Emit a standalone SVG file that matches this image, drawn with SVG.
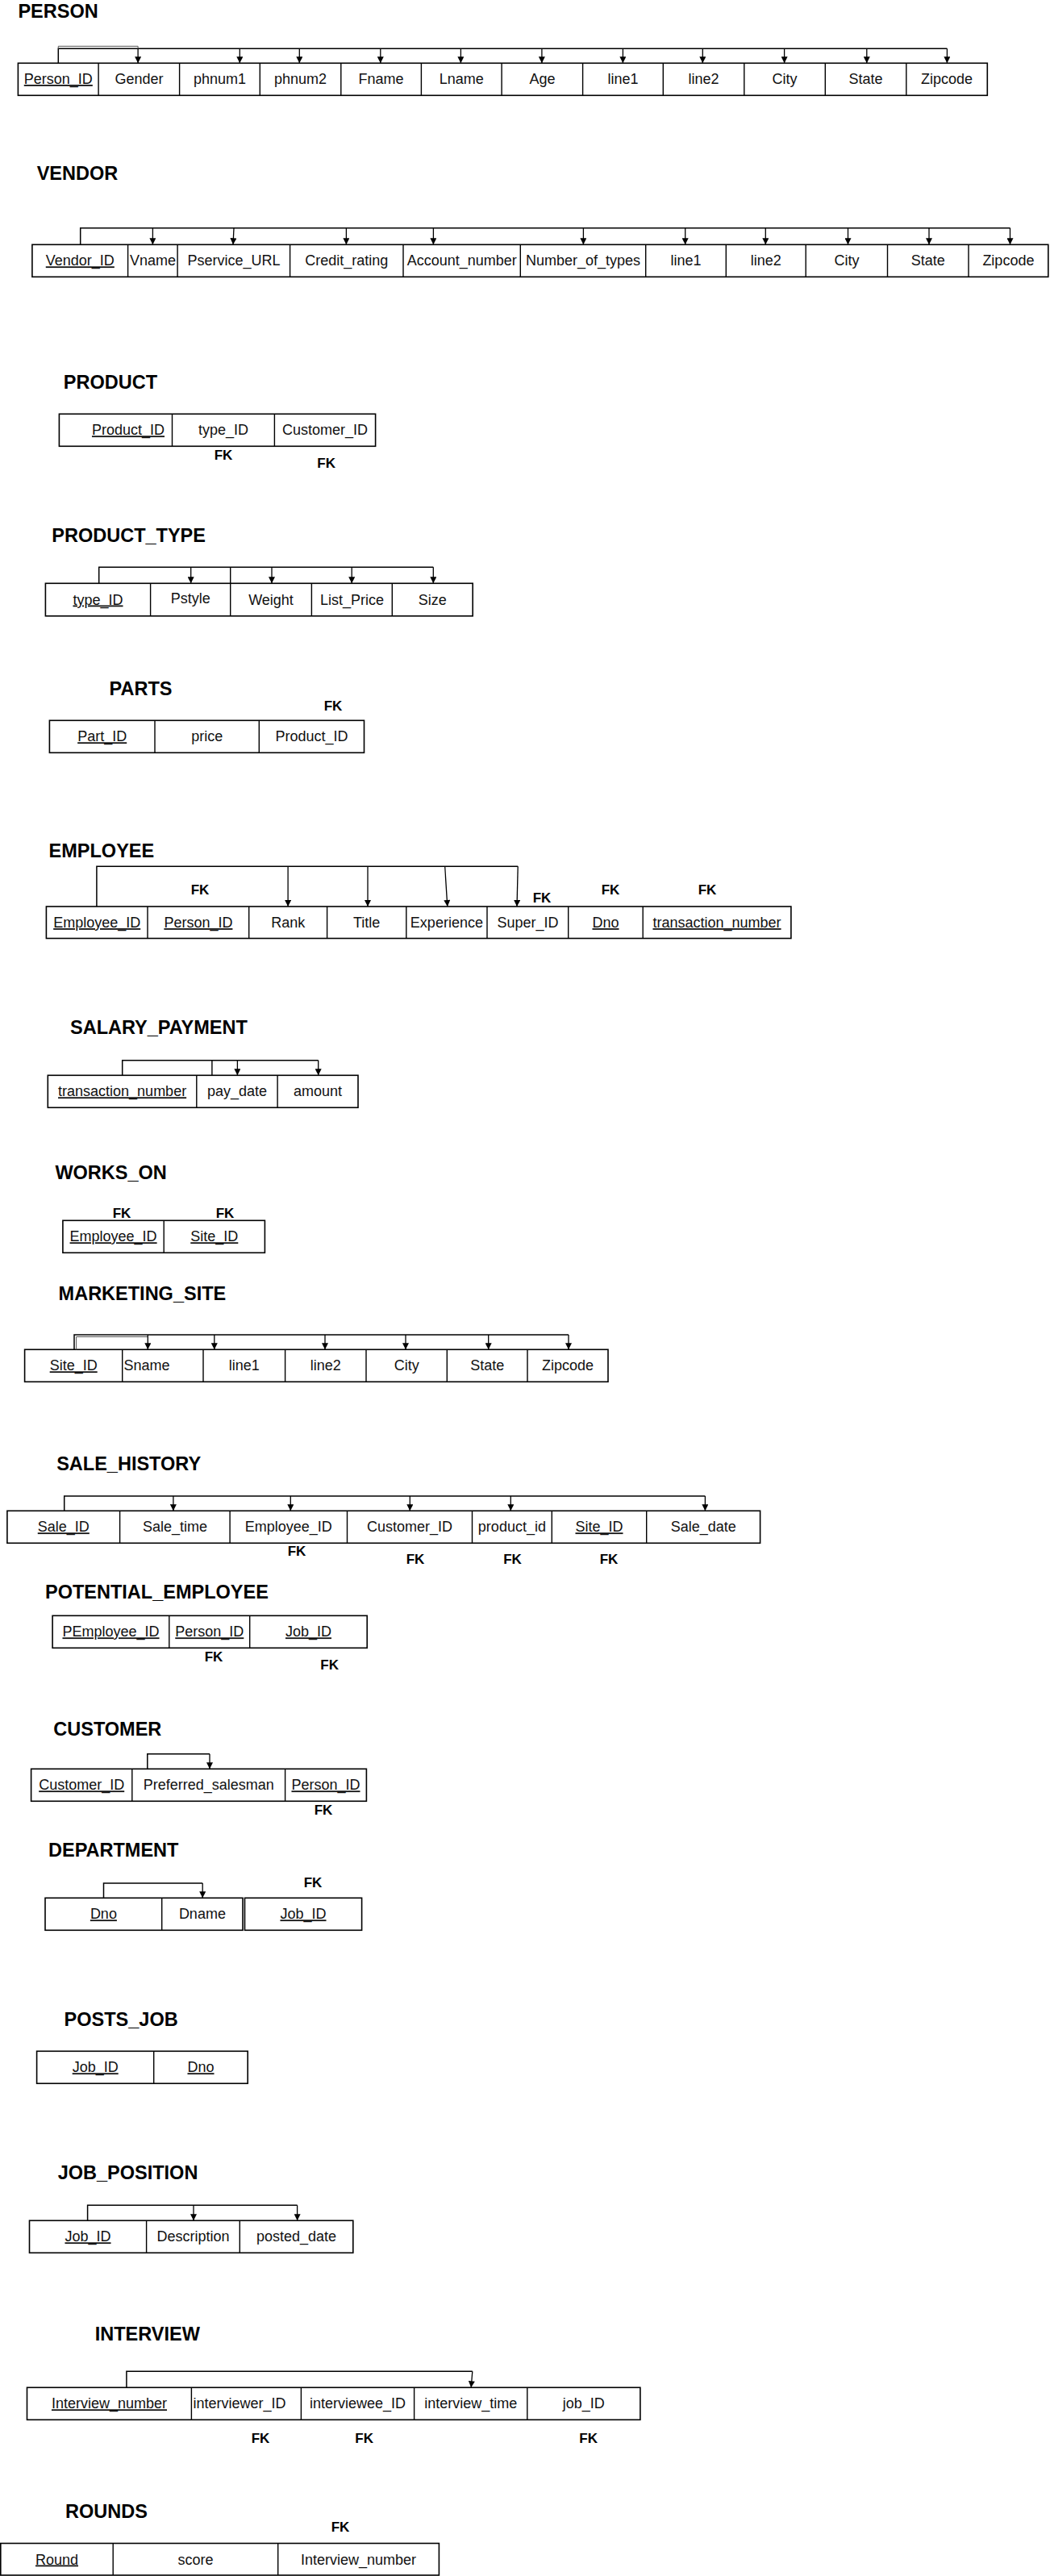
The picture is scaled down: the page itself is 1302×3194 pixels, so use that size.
<svg xmlns="http://www.w3.org/2000/svg" width="1302" height="3194" viewBox="0 0 1302 3194">
<style>
.t{font-family:"Liberation Sans",Arial,sans-serif;font-size:23.5px;font-weight:bold;fill:#000}
.c{font-family:"Liberation Sans",Arial,sans-serif;font-size:18px;fill:#111;text-anchor:middle}
.s{text-anchor:start}
.u{text-decoration:underline}
.fk{font-family:"Liberation Sans",Arial,sans-serif;font-size:17px;font-weight:bold;fill:#000;text-anchor:middle}
.box{fill:#fff;stroke:#000;stroke-width:1.6}
.div{fill:none;stroke:#000;stroke-width:1.4}
.conn{fill:none;stroke:#000;stroke-width:1.5}
.thin{fill:none;stroke:#555;stroke-width:1}
.arr{fill:none;stroke:#000;stroke-width:1.3;marker-end:url(#ah)}
</style>
<defs>
<marker id="ah" viewBox="0 0 10 10" refX="10" refY="5" markerUnits="userSpaceOnUse" markerWidth="9" markerHeight="8" orient="auto">
<path d="M0,0 L10,5 L0,10 z" fill="#000"/>
</marker>
</defs>
<rect x="0" y="0" width="1302" height="3194" fill="#fff"/>

<g id="person">
<text class="t" x="22.4" y="22">PERSON</text>
<rect class="box" x="22.4" y="78.3" width="1201.9" height="40"/>
<path class="div" d="M122.1,78.3v40M222.6,78.3v40M322.3,78.3v40M422.8,78.3v40M522.4,78.3v40M622.1,78.3v40M722.6,78.3v40M822.3,78.3v40M922.8,78.3v40M1023.3,78.3v40M1123.8,78.3v40"/>
<text class="c u" x="72.3" y="104">Person_ID</text>
<text class="c" x="172.4" y="104">Gender</text>
<text class="c" x="272.5" y="104">phnum1</text>
<text class="c" x="372.6" y="104">phnum2</text>
<text class="c" x="472.6" y="104">Fname</text>
<text class="c" x="572.3" y="104">Lname</text>
<text class="c" x="672.4" y="104">Age</text>
<text class="c" x="772.5" y="104">line1</text>
<text class="c" x="872.6" y="104">line2</text>
<text class="c" x="973.1" y="104">City</text>
<text class="c" x="1073.6" y="104">State</text>
<text class="c" x="1174.1" y="104">Zipcode</text>
</g>

<g id="vendor">
<text class="t" x="45.7" y="223">VENDOR</text>
<rect class="box" x="39.9" y="303.3" width="1259.9" height="40"/>
<path class="div" d="M158.6,303.3v40M220.1,303.3v40M359.6,303.3v40M500,303.3v40M645.3,303.3v40M800.7,303.3v40M900.3,303.3v40M999.2,303.3v40M1100.5,303.3v40M1201,303.3v40"/>
<text class="c u" x="99.3" y="329.3">Vendor_ID</text>
<text class="c" x="189.4" y="329.3">Vname</text>
<text class="c" x="289.9" y="329.3">Pservice_URL</text>
<text class="c" x="429.8" y="329.3">Credit_rating</text>
<text class="c" x="572.7" y="329.3">Account_number</text>
<text class="c" x="723" y="329.3">Number_of_types</text>
<text class="c" x="850.5" y="329.3">line1</text>
<text class="c" x="949.8" y="329.3">line2</text>
<text class="c" x="1049.9" y="329.3">City</text>
<text class="c" x="1150.8" y="329.3">State</text>
<text class="c" x="1250.4" y="329.3">Zipcode</text>
</g>

<g id="product">
<text class="t" x="78.8" y="482.3">PRODUCT</text>
<rect class="box" x="73.4" y="513.3" width="392.2" height="40"/>
<path class="div" d="M213.5,513.3v40M340.4,513.3v40"/>
<text class="c u" x="159" y="539.3">Product_ID</text>
<text class="c" x="277" y="539.3">type_ID</text>
<text class="c" x="403" y="539.3">Customer_ID</text>
<text class="fk" x="277" y="570">FK</text>
<text class="fk" x="404.6" y="580">FK</text>
</g>

<g id="product_type">
<text class="t" x="64.3" y="672">PRODUCT_TYPE</text>
<rect class="box" x="56.4" y="723.3" width="529.8" height="40.5"/>
<path class="div" d="M186.6,723.3v40.5M285.7,723.3v40.5M386.4,723.3v40.5M486.3,723.3v40.5"/>
<text class="c u" x="121.5" y="749.5">type_ID</text>
<text class="c" x="236.2" y="748">Pstyle</text>
<text class="c" x="336" y="749.5">Weight</text>
<text class="c" x="436.4" y="749.5">List_Price</text>
<text class="c" x="536.3" y="749.5">Size</text>
</g>

<g id="parts">
<text class="t" x="135.6" y="862.3">PARTS</text>
<text class="fk" x="413" y="880.7">FK</text>
<rect class="box" x="61.4" y="893.3" width="390.1" height="40"/>
<path class="div" d="M192,893.3v40M321.3,893.3v40"/>
<text class="c u" x="126.7" y="919.3">Part_ID</text>
<text class="c" x="256.7" y="919.3">price</text>
<text class="c" x="386.4" y="919.3">Product_ID</text>
</g>

<g id="employee">
<text class="t" x="60.6" y="1063">EMPLOYEE</text>
<rect class="box" x="57.4" y="1124" width="923.5" height="39.5"/>
<path class="div" d="M183,1124v39.5M308.7,1124v39.5M405.6,1124v39.5M503.8,1124v39.5M604,1124v39.5M704.7,1124v39.5M797.2,1124v39.5"/>
<text class="c u" x="120.2" y="1150">Employee_ID</text>
<text class="c u" x="245.9" y="1150">Person_ID</text>
<text class="c" x="357.2" y="1150">Rank</text>
<text class="c" x="454.7" y="1150">Title</text>
<text class="c" x="553.9" y="1150">Experience</text>
<text class="c" x="654.4" y="1150">Super_ID</text>
<text class="c u" x="751" y="1150">Dno</text>
<text class="c u" x="889" y="1150">transaction_number</text>
<text class="fk" x="248" y="1109.3">FK</text>
<text class="fk" x="672" y="1119.3">FK</text>
<text class="fk" x="757" y="1109.3">FK</text>
<text class="fk" x="877" y="1109.3">FK</text>
</g>

<g id="salary_payment">
<text class="t" x="87" y="1282.3">SALARY_PAYMENT</text>
<rect class="box" x="59.3" y="1333.3" width="384.7" height="40"/>
<path class="div" d="M243.8,1333.3v40M344.1,1333.3v40"/>
<text class="c u" x="151.6" y="1359.3">transaction_number</text>
<text class="c" x="294" y="1359.3">pay_date</text>
<text class="c" x="394" y="1359.3">amount</text>
</g>

<g id="works_on">
<text class="t" x="68.4" y="1461.7">WORKS_ON</text>
<text class="fk" x="151" y="1510">FK</text>
<text class="fk" x="279" y="1510">FK</text>
<rect class="box" x="77.9" y="1513.3" width="250.5" height="40"/>
<path class="div" d="M203.2,1513.3v40"/>
<text class="c u" x="140.6" y="1539.3">Employee_ID</text>
<text class="c u" x="265.8" y="1539.3">Site_ID</text>
</g>

<g id="marketing_site">
<text class="t" x="72.6" y="1612">MARKETING_SITE</text>
<rect class="box" x="30.6" y="1673.3" width="723.4" height="40"/>
<path class="div" d="M151.7,1673.3v40M252,1673.3v40M353.6,1673.3v40M454,1673.3v40M554.3,1673.3v40M654,1673.3v40"/>
<text class="c u" x="91.2" y="1699.3">Site_ID</text>
<text class="c s" x="153.4" y="1699.3">Sname</text>
<text class="c" x="302.8" y="1699.3">line1</text>
<text class="c" x="403.8" y="1699.3">line2</text>
<text class="c" x="504.2" y="1699.3">City</text>
<text class="c" x="604.2" y="1699.3">State</text>
<text class="c" x="704" y="1699.3">Zipcode</text>
</g>

<g id="sale_history">
<text class="t" x="70.2" y="1822.7">SALE_HISTORY</text>
<rect class="box" x="8.9" y="1873.3" width="933.7" height="40"/>
<path class="div" d="M148.6,1873.3v40M285.1,1873.3v40M430.5,1873.3v40M585.5,1873.3v40M684.3,1873.3v40M801.7,1873.3v40"/>
<text class="c u" x="78.8" y="1899.3">Sale_ID</text>
<text class="c" x="216.9" y="1899.3">Sale_time</text>
<text class="c" x="357.8" y="1899.3">Employee_ID</text>
<text class="c" x="508" y="1899.3">Customer_ID</text>
<text class="c" x="634.9" y="1899.3">product_id</text>
<text class="c u" x="743" y="1899.3">Site_ID</text>
<text class="c" x="872.2" y="1899.3">Sale_date</text>
<text class="fk" x="368" y="1929">FK</text>
<text class="fk" x="515" y="1939">FK</text>
<text class="fk" x="635.5" y="1939">FK</text>
<text class="fk" x="755" y="1939">FK</text>
</g>

<g id="potential_employee">
<text class="t" x="56" y="1981.7">POTENTIAL_EMPLOYEE</text>
<rect class="box" x="65.1" y="2003.3" width="390.1" height="40"/>
<path class="div" d="M209.8,2003.3v40M309.7,2003.3v40"/>
<text class="c u" x="137.5" y="2029.3">PEmployee_ID</text>
<text class="c u" x="259.8" y="2029.3">Person_ID</text>
<text class="c u" x="382.5" y="2029.3">Job_ID</text>
<text class="fk" x="265" y="2060">FK</text>
<text class="fk" x="408.7" y="2070">FK</text>
</g>

<g id="customer">
<text class="t" x="66.3" y="2152">CUSTOMER</text>
<rect class="box" x="38.6" y="2193.3" width="415.8" height="40"/>
<path class="div" d="M163.8,2193.3v40M353.6,2193.3v40"/>
<text class="c u" x="101.2" y="2219.3">Customer_ID</text>
<text class="c" x="258.7" y="2219.3">Preferred_salesman</text>
<text class="c u" x="404" y="2219.3">Person_ID</text>
<text class="fk" x="401" y="2250">FK</text>
</g>

<g id="department">
<text class="t" x="60" y="2302.3">DEPARTMENT</text>
<text class="fk" x="388" y="2340">FK</text>
<rect class="box" x="56" y="2353.3" width="245" height="40"/>
<path class="div" d="M200.7,2353.3v40"/>
<rect class="box" x="303.5" y="2353.3" width="145.1" height="40"/>
<text class="c u" x="128.4" y="2379.3">Dno</text>
<text class="c" x="250.9" y="2379.3">Dname</text>
<text class="c u" x="376" y="2379.3">Job_ID</text>
</g>

<g id="posts_job">
<text class="t" x="79.6" y="2512.3">POSTS_JOB</text>
<rect class="box" x="45.6" y="2543.3" width="261.6" height="40"/>
<path class="div" d="M190.7,2543.3v40"/>
<text class="c u" x="118.2" y="2569.3">Job_ID</text>
<text class="c u" x="249" y="2569.3">Dno</text>
</g>

<g id="job_position">
<text class="t" x="71.7" y="2702.3">JOB_POSITION</text>
<rect class="box" x="36.5" y="2753.3" width="401.3" height="40"/>
<path class="div" d="M181.6,2753.3v40M297.3,2753.3v40"/>
<text class="c u" x="109" y="2779.3">Job_ID</text>
<text class="c" x="239.5" y="2779.3">Description</text>
<text class="c" x="367.6" y="2779.3">posted_date</text>
</g>

<g id="interview">
<text class="t" x="117.7" y="2902.3">INTERVIEW</text>
<rect class="box" x="33.5" y="2960.3" width="760.4" height="40"/>
<path class="div" d="M237.4,2960.3v40M373.4,2960.3v40M513.6,2960.3v40M653.8,2960.3v40"/>
<text class="c u" x="135.5" y="2986.3">Interview_number</text>
<text class="c s" x="239.5" y="2986.3">interviewer_ID</text>
<text class="c" x="443.5" y="2986.3">interviewee_ID</text>
<text class="c" x="583.7" y="2986.3">interview_time</text>
<text class="c" x="723.8" y="2986.3">job_ID</text>
<text class="fk" x="323" y="3029.3">FK</text>
<text class="fk" x="451.6" y="3029.3">FK</text>
<text class="fk" x="729.7" y="3029.3">FK</text>
</g>

<g id="rounds">
<text class="t" x="81" y="3121.7">ROUNDS</text>
<text class="fk" x="422" y="3139.3">FK</text>
<rect class="box" x="0.8" y="3153.5" width="543.6" height="39.5"/>
<path class="div" d="M140.2,3153.5v39.5M344.7,3153.5v39.5"/>
<text class="c u" x="70.5" y="3179.5">Round</text>
<text class="c" x="242.5" y="3179.5">score</text>
<text class="c" x="444.5" y="3179.5">Interview_number</text>
</g>

<g id="connectors">
<path class="conn" d="M72.3,78.3V60.3H1174.4"/>
<path class="thin" d="M72.3,60.3V57.3H171.1V60.3"/>
<path class="arr" d="M171.1,60.3V78.3"/>
<path class="arr" d="M297.3,60.3V78.3"/>
<path class="arr" d="M371.3,60.3V78.3"/>
<path class="arr" d="M471.8,60.3V78.3"/>
<path class="arr" d="M571.4,60.3V78.3"/>
<path class="arr" d="M671.9,60.3V78.3"/>
<path class="arr" d="M772.4,60.3V78.3"/>
<path class="arr" d="M871.3,60.3V78.3"/>
<path class="arr" d="M972.6,60.3V78.3"/>
<path class="arr" d="M1074.8,60.3V78.3"/>
<path class="arr" d="M1174.4,60.3V78.3"/>
<path class="conn" d="M99.7,303.3V282.7H1252.5"/>
<path class="arr" d="M189.4,282.7V303.3"/>
<path class="arr" d="M290,282.7L289,303.3"/>
<path class="arr" d="M429.4,282.7V303.3"/>
<path class="arr" d="M537.4,282.7V303.3"/>
<path class="arr" d="M723.4,282.7V303.3"/>
<path class="arr" d="M849.7,282.7V303.3"/>
<path class="arr" d="M949.3,282.7V303.3"/>
<path class="arr" d="M1051.5,282.7V303.3"/>
<path class="arr" d="M1152,282.7V303.3"/>
<path class="arr" d="M1252.5,282.7V303.3"/>
<path class="conn" d="M122.7,723.3V703.3H537.3"/>
<path class="div" d="M285.7,703.3V723.3"/>
<path class="arr" d="M236.7,703.3V723.3"/>
<path class="arr" d="M337,703.3V723.3"/>
<path class="arr" d="M436.2,703.3V723.3"/>
<path class="arr" d="M537.3,703.3V723.3"/>
<path class="conn" d="M119.9,1124V1074.3H642.2"/>
<path class="arr" d="M357.1,1074.3V1124"/>
<path class="arr" d="M456,1074.3V1124"/>
<path class="arr" d="M551.7,1074.3L554.8,1124"/>
<path class="arr" d="M642.2,1074.3L641,1124"/>
<path class="conn" d="M151.7,1333.3V1314.7H394.7"/>
<path class="div" d="M262.9,1314.7V1333.3"/>
<path class="arr" d="M294.4,1314.7V1333.3"/>
<path class="arr" d="M394.7,1314.7V1333.3"/>
<path class="conn" d="M92,1673.3V1655H705"/>
<path class="thin" d="M94.6,1673.3V1657.5H183"/>
<path class="arr" d="M183.3,1655V1673.3"/>
<path class="arr" d="M265.8,1655V1673.3"/>
<path class="arr" d="M403,1655V1673.3"/>
<path class="arr" d="M503,1655V1673.3"/>
<path class="arr" d="M605.7,1655V1673.3"/>
<path class="arr" d="M705,1655V1673.3"/>
<path class="conn" d="M79.7,1873.3V1855H874.4"/>
<path class="arr" d="M214.9,1855V1873.3"/>
<path class="arr" d="M360.3,1855V1873.3"/>
<path class="arr" d="M508.3,1855V1873.3"/>
<path class="arr" d="M633.3,1855V1873.3"/>
<path class="arr" d="M874.4,1855V1873.3"/>
<path class="conn" d="M182.8,2193.3V2174.7H260"/>
<path class="arr" d="M260,2174.7V2193.3"/>
<path class="conn" d="M128.5,2353.3V2335H251.2"/>
<path class="arr" d="M251.2,2335V2353.3"/>
<path class="conn" d="M108.6,2753.3V2734.3H368.6"/>
<path class="arr" d="M240,2734.3V2753.3"/>
<path class="arr" d="M368.6,2734.3V2753.3"/>
<path class="conn" d="M156.9,2960.3V2940.3H585.8"/>
<path class="arr" d="M585.8,2940.3L584.2,2960.3"/>
</g>
</svg>
